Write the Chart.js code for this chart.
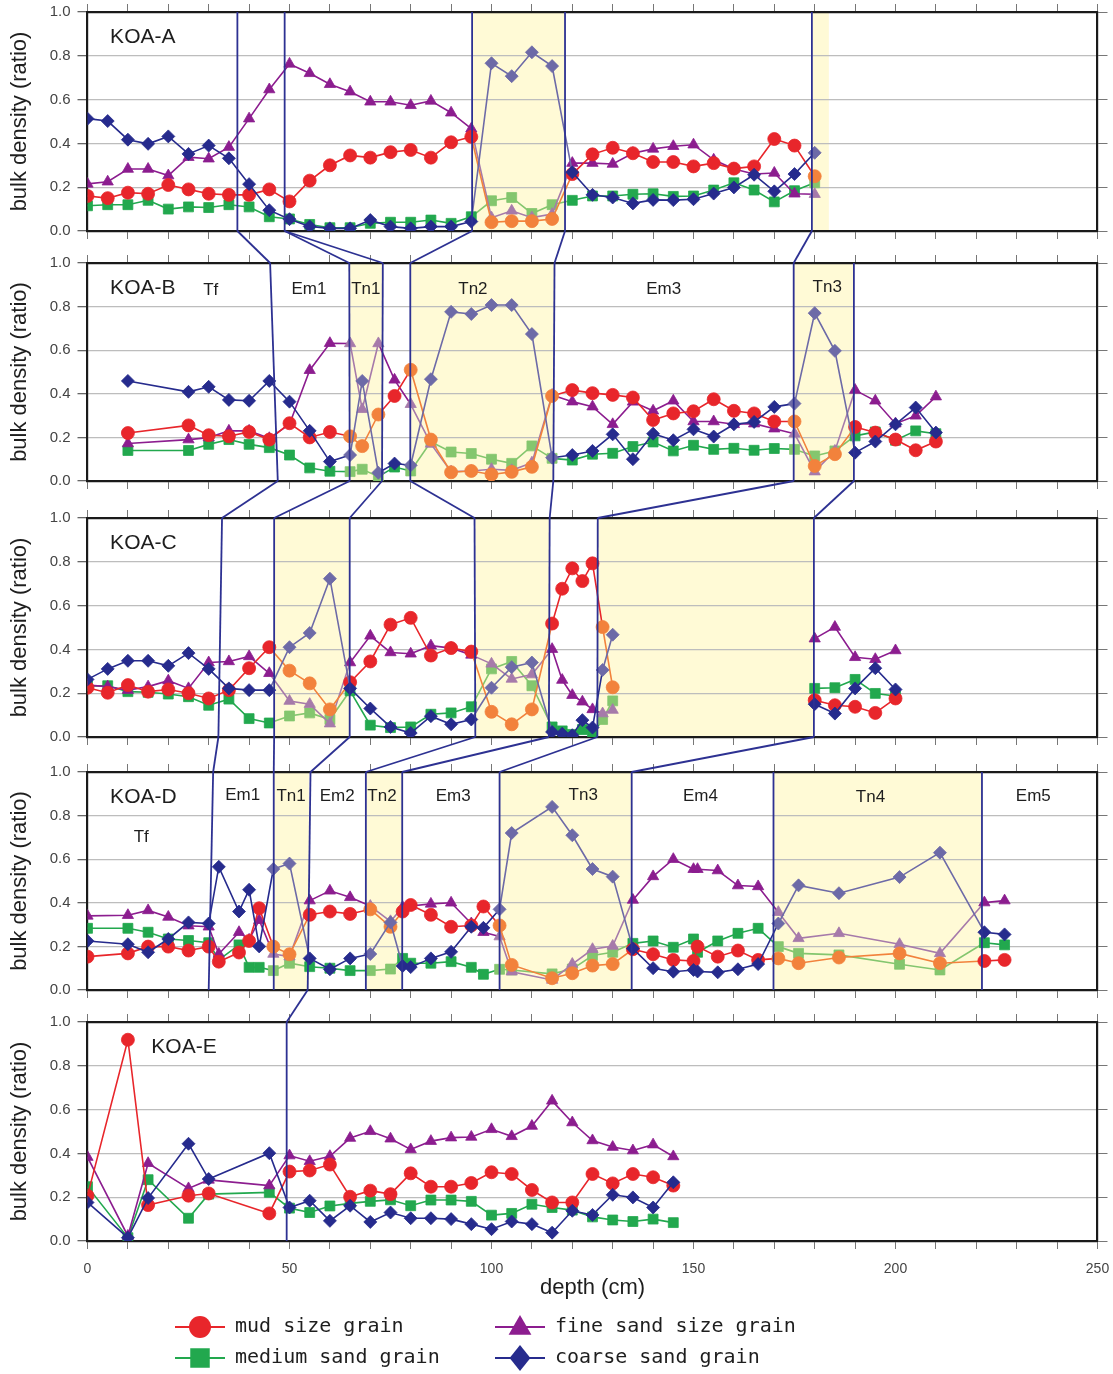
<!DOCTYPE html>
<html>
<head>
<meta charset="utf-8">
<title>bulk density</title>
<script src="https://cdn.jsdelivr.net/npm/chart.js@4.4.1/dist/chart.umd.min.js"></script>
<style>
  html, body { margin: 0; padding: 0; background: #fff; }
  #page { position: relative; width: 1113px; height: 1374px; overflow: hidden; }
  #page canvas { position: absolute; left: 0; }
  #links { top: 0; pointer-events: none; }
</style>
</head>
<body>
<div id="page"></div>
<script>
// ---- data (depth in cm, ratio 0-1) ----
const depthA = [0,5,10,15,20,25,30,35,40,45,50,55,60,65,70,75,80,85,90,95,100,105,110,115,120,125,130,135,140,145,150,155,160,165,170,175,180];
const mudA = [0.16,0.15,0.175,0.17,0.21,0.19,0.17,0.165,0.165,0.19,0.135,0.23,0.30,0.345,0.335,0.36,0.37,0.335,0.405,0.43,0.04,0.045,0.045,0.055,0.26,0.35,0.38,0.355,0.315,0.315,0.295,0.31,0.285,0.295,0.42,0.39,0.25];
const mediumA = [0.115,0.12,0.12,0.14,0.10,0.11,0.107,0.12,0.11,0.065,0.055,0.03,0.015,0.015,0.035,0.04,0.04,0.05,0.035,0.065,0.138,0.153,0.08,0.12,0.14,0.16,0.16,0.168,0.17,0.158,0.16,0.187,0.22,0.187,0.133,0.184,0.22];
const fineA = [0.215,0.225,0.283,0.283,0.253,0.337,0.33,0.383,0.513,0.646,0.763,0.72,0.67,0.636,0.59,0.59,0.574,0.594,0.54,0.467,0.061,0.092,0.061,0.077,0.31,0.31,0.306,0.355,0.375,0.387,0.394,0.325,0.283,0.26,0.265,0.17,0.168];
const coarseA = [0.513,0.502,0.417,0.398,0.432,0.352,0.39,0.332,0.214,0.095,0.054,0.021,0.012,0.012,0.05,0.02,0.012,0.02,0.02,0.043,0.766,0.707,0.816,0.753,0.268,0.165,0.153,0.126,0.142,0.141,0.145,0.171,0.199,0.257,0.181,0.26,0.357];

const depthB = [10,25,30,35,40,45,50,55,60,65,68,72,76,80,85,90,95,100,105,110,115,120,125,130,135,140,145,150,155,160,165,170,175,180,185,190,195,200,205,210];
const mudB = [0.22,0.255,0.21,0.205,0.225,0.19,0.265,0.2,0.225,0.205,0.16,0.305,0.39,0.51,0.19,0.04,0.046,0.03,0.042,0.065,0.39,0.417,0.403,0.395,0.383,0.28,0.31,0.32,0.375,0.322,0.31,0.273,0.273,0.069,0.123,0.248,0.222,0.19,0.141,0.181];
const mediumB = [0.14,0.14,0.168,0.19,0.168,0.153,0.119,0.06,0.045,0.043,0.054,0.02,0.064,0.046,0.18,0.133,0.126,0.1,0.081,0.161,0.104,0.096,0.123,0.127,0.158,0.179,0.138,0.164,0.145,0.15,0.141,0.149,0.145,0.115,0.138,0.207,0.225,0.187,0.23,0.217];
const fineB = [0.172,0.19,0.199,0.23,0.23,0.196,0.26,0.508,0.632,0.631,0.329,0.631,0.464,0.352,0.17,0.043,0.046,0.054,0.049,0.084,0.395,0.364,0.341,0.26,0.363,0.322,0.368,0.273,0.273,0.26,0.263,0.24,0.217,0.043,0.138,0.417,0.368,0.263,0.299,0.387];
const coarseB = [0.459,0.409,0.432,0.372,0.368,0.459,0.364,0.23,0.089,0.119,0.459,0.038,0.08,0.072,0.467,0.776,0.766,0.807,0.807,0.674,0.107,0.119,0.138,0.214,0.1,0.217,0.187,0.237,0.204,0.26,0.271,0.34,0.355,0.77,0.597,0.13,0.181,0.26,0.337,0.222];

const depthC = [0,5,10,15,20,25,30,35,40,45,50,55,60,65,70,75,80,85,90,95,100,105,110,115,117.5,120,122.5,125,127.5,130,155,180,185,190,195,200];
const mudC = [0.225,0.202,0.237,0.207,0.217,0.2,0.176,0.214,0.314,0.41,0.303,0.245,0.126,0.25,0.345,0.513,0.544,0.372,0.406,0.39,0.115,0.058,0.126,0.518,0.677,0.77,0.712,0.793,0.502,0.227,null,0.168,0.145,0.138,0.11,0.176];
const mediumC = [0.233,0.234,0.207,0.204,0.196,0.184,0.145,0.173,0.084,0.064,0.096,0.11,0.08,0.211,0.054,0.043,0.046,0.104,0.11,0.138,0.311,0.345,0.234,0.046,0.028,0.012,0.034,0.015,0.08,0.165,null,0.222,0.225,0.263,0.199,0.187];
const fineC = [0.237,0.23,0.214,0.23,0.257,0.222,0.34,0.345,0.368,0.291,0.164,0.15,0.061,0.34,0.462,0.386,0.38,0.417,0.406,0.375,0.334,0.265,0.285,0.401,0.26,0.191,0.161,0.126,0.107,0.123,null,0.449,0.502,0.364,0.355,0.395];
const coarseC = [0.263,0.311,0.348,0.348,0.325,0.383,0.311,0.222,0.214,0.214,0.41,0.475,0.723,0.222,0.13,0.046,0.018,0.095,0.058,0.08,0.225,0.319,0.34,0.023,0.015,0.008,0.077,0.043,0.306,0.467,null,0.15,0.107,0.222,0.314,0.217];

const depthD = [0,10,15,20,25,30,32.5,37.5,40,42.5,46,50,55,60,65,70,75,78,80,85,90,95,98,102,105,115,120,125,130,135,140,145,150,151,156,161,166,171,176,186,201,211,222,227];
const mudD = [0.153,0.168,0.199,0.199,0.181,0.199,0.13,0.172,0.225,0.375,0.199,0.164,0.345,0.36,0.349,0.37,0.29,0.36,0.39,0.345,0.29,0.296,0.383,0.296,0.115,0.054,0.077,0.112,0.119,0.187,0.164,0.138,0.133,0.199,0.153,0.181,0.138,0.145,0.123,0.149,0.168,0.123,0.133,0.138];
const mediumD = [0.283,0.283,0.265,0.234,0.227,0.217,0.138,0.207,0.104,0.104,0.089,0.123,0.107,0.1,0.089,0.089,0.096,0.145,0.123,0.123,0.13,0.104,0.072,0.095,0.092,0.074,0.096,0.158,0.173,0.214,0.225,0.196,0.234,0.173,0.225,0.26,0.283,0.199,0.168,0.161,0.118,0.092,0.217,0.207];
const fineD = [0.34,0.343,0.365,0.335,0.295,0.29,0.165,0.265,0.23,0.32,0.165,0.153,0.41,0.455,0.425,0.385,0.315,0.38,0.385,0.395,0.40,0.305,0.265,0.245,0.084,0.046,0.119,0.187,0.202,0.413,0.521,0.6,0.554,0.554,0.548,0.479,0.475,0.357,0.237,0.26,0.21,0.168,0.401,0.41];
const coarseD = [0.225,0.21,0.173,0.234,0.31,0.305,0.565,0.36,0.46,0.2,0.555,0.58,0.145,0.095,0.145,0.165,0.31,0.11,0.105,0.145,0.175,0.29,0.285,0.37,0.72,0.84,0.71,0.555,0.52,0.19,0.1,0.084,0.092,0.085,0.081,0.095,0.119,0.305,0.48,0.444,0.518,0.63,0.265,0.255];

const depthE = [0,10,15,25,30,45,50,55,60,65,70,75,80,85,90,95,100,105,110,115,120,125,130,135,140,145];
const mudE = [0.207,0.919,0.164,0.207,0.217,0.126,0.317,0.322,0.349,0.202,0.23,0.214,0.309,0.248,0.248,0.265,0.314,0.306,0.233,0.176,0.176,0.306,0.263,0.306,0.291,0.253];
const mediumE = [0.248,0.015,0.28,0.104,0.214,0.222,0.15,0.13,0.16,0.172,0.181,0.188,0.161,0.187,0.187,0.181,0.118,0.126,0.168,0.153,0.141,0.11,0.096,0.089,0.1,0.084];
const fineE = [0.383,0.023,0.355,0.24,0.279,0.253,0.39,0.364,0.387,0.47,0.501,0.467,0.418,0.456,0.472,0.475,0.51,0.478,0.525,0.64,0.541,0.459,0.429,0.413,0.44,0.386];
const coarseE = [0.176,0.015,0.196,0.444,0.283,0.401,0.153,0.184,0.092,0.161,0.087,0.13,0.104,0.104,0.1,0.077,0.054,0.089,0.077,0.038,0.138,0.119,0.211,0.199,0.153,0.268];

// tsunami layers (shaded), depth ranges in cm
const zonesA = [[95.2,118.2],[179.3,183.5]];
const zonesB = [[64.8,73.0],[79.9,115.5],[174.8,189.7]];
const zonesC = [[46.2,64.9],[96.0,114.3],[126.3,179.8]];
const zonesD = [[45.9,54.8],[68.9,77.9],[101.8,134.7],[169.8,221.4]];
const zonesE = [];

// layer boundaries inside each core: [depth at top, depth at bottom]
const boundsA = [[37.1,37.1],[48.8,48.8],[95.2,95.2],[118.2,118.2],[179.3,179.3]];
const boundsB = [[45.2,47.1],[64.8,64.9],[73.1,72.9],[79.9,79.9],[115.6,115.3],[174.8,174.8],[189.7,189.7]];
const boundsC = [[33.3,32.4],[46.2,46.2],[64.9,64.9],[95.8,96.0],[114.4,114.2],[126.3,126.2],[179.8,179.8]];
const boundsD = [[31.1,30.0],[46.1,46.1],[55.2,54.5],[68.9,68.9],[77.9,77.9],[102.0,102.0],[134.7,134.7],[169.8,169.8],[221.4,221.4]];
const boundsE = [[49.3,49.3]];

// correlation between neighbouring cores: [depth in upper core, depth in lower core]
const linksAB = [[37.1,45.2],[48.8,64.8],[48.8,73.1],[95.2,79.9],[118.2,115.6],[179.3,174.8]];
const linksBC = [[47.1,33.3],[64.9,46.2],[72.9,64.9],[79.9,95.8],[115.3,114.4],[174.8,126.3],[189.7,179.8]];
const linksCD = [[32.4,31.1],[46.2,46.1],[64.9,55.2],[96.0,68.9],[114.2,77.9],[126.2,102.0],[179.8,134.7]];
const linksDE = [[54.5,49.3]];

// unit labels: [text, depth, ratio]
const unitsB = [['Tf',30.5,0.875],['Em1',54.8,0.88],['Tn1',68.9,0.88],['Tn2',95.4,0.88],['Em3',142.6,0.88],['Tn3',183.1,0.89]];
const unitsD = [['Tf',13.3,0.70],['Em1',38.4,0.895],['Tn1',50.4,0.89],['Em2',61.8,0.89],['Tn2',72.9,0.89],['Em3',90.5,0.89],['Tn3',122.7,0.895],['Em4',151.7,0.89],['Tn4',193.8,0.885],['Em5',234.1,0.89]];

const seriesStyle = [
  { label: 'mud size grain', color: '#e8262b', tint: '#f2823c', shape: 'circle', r: 6.5, order: 2 },
  { label: 'medium sand grain', color: '#22a84e', tint: '#84c66e', shape: 'rect', r: 7, order: 4 },
  { label: 'fine sand size grain', color: '#8c1d8f', tint: '#a67aaa', shape: 'triangle', r: 6.5, order: 3 },
  { label: 'coarse sand grain', color: '#262b8d', tint: '#6d6aa7', shape: 'rectRot', r: 6.5, order: 1 }
];

Chart.defaults.font.family = "'Liberation Sans', Arial, sans-serif";

const panels = [
  { name: 'KOA-A', nameX: 5.6, top: 12, bottom: 231, depth: depthA, vals: [mudA, mediumA, fineA, coarseA], zones: zonesA, bounds: boundsA, units: [] },
  { name: 'KOA-B', nameX: 5.6, top: 263, bottom: 481, depth: depthB, vals: [mudB, mediumB, fineB, coarseB], zones: zonesB, bounds: boundsB, units: unitsB },
  { name: 'KOA-C', nameX: 5.6, top: 518, bottom: 737, depth: depthC, vals: [mudC, mediumC, fineC, coarseC], zones: zonesC, bounds: boundsC, units: [] },
  { name: 'KOA-D', nameX: 5.6, top: 772, bottom: 990, depth: depthD, vals: [mudD, mediumD, fineD, coarseD], zones: zonesD, bounds: boundsD, units: unitsD },
  { name: 'KOA-E', nameX: 15.8, top: 1022, bottom: 1241, depth: depthE, vals: [mudE, mediumE, fineE, coarseE], zones: zonesE, bounds: boundsE, units: [] }
];
const links = [linksAB, linksBC, linksCD, linksDE];

function drawMarker(ctx, shape, x, y, r, color) {
  ctx.save();
  ctx.fillStyle = color;
  ctx.beginPath();
  if (shape === 'circle') {
    ctx.arc(x, y, r, 0, Math.PI * 2);
  } else if (shape === 'rect') {
    ctx.rect(x - r * 0.75, y - r * 0.75, r * 1.5, r * 1.5);
  } else if (shape === 'triangle') {
    ctx.moveTo(x, y - r);
    ctx.lineTo(x + r * 0.95, y + r * 0.65);
    ctx.lineTo(x - r * 0.95, y + r * 0.65);
    ctx.closePath();
  } else {
    ctx.moveTo(x, y - r);
    ctx.lineTo(x + r * 0.8, y);
    ctx.lineTo(x, y + r);
    ctx.lineTo(x - r * 0.8, y);
    ctx.closePath();
  }
  ctx.fill();
  ctx.restore();
}

const page = document.getElementById('page');
const charts = [];
const tops = [];

panels.forEach((p, idx) => {
  const last = idx === panels.length - 1;
  const ph = p.bottom - p.top;
  const padTop = 6;
  const cTop = p.top - 8 - padTop;
  const axisH = last ? 60 : 8;
  const cHeight = last ? 1374 - cTop : ph + 28;
  const padBottom = cHeight - padTop - 8 - ph - axisH;
  tops.push(cTop);

  const canvas = document.createElement('canvas');
  canvas.width = 1113;
  canvas.height = cHeight;
  canvas.style.top = cTop + 'px';
  page.appendChild(canvas);

  const inZone = x => p.zones.some(z => x > z[0] && x < z[1]);

  const datasets = seriesStyle.map((s, k) => ({
    label: s.label,
    data: p.depth.map((d, i) => ({ x: d, y: p.vals[k][i] })),
    borderColor: s.color,
    borderWidth: 1.6,
    pointStyle: s.shape,
    pointRadius: s.r,
    pointBorderWidth: 0.8,
    pointBackgroundColor: c => (c.raw && inZone(c.raw.x)) ? s.tint : s.color,
    pointBorderColor: c => (c.raw && inZone(c.raw.x)) ? s.tint : s.color,
    segment: {
      borderColor: c => inZone((c.p0.parsed.x + c.p1.parsed.x) / 2) ? s.tint : undefined
    },
    spanGaps: false,
    order: s.order
  }));

  const shading = {
    id: 'shading',
    beforeDraw(chart) {
      const { ctx, chartArea: a, scales: { x } } = chart;
      ctx.save();
      ctx.fillStyle = '#fffad6';
      p.zones.forEach(z => {
        const x0 = x.getPixelForValue(z[0]);
        const x1 = x.getPixelForValue(z[1]);
        ctx.fillRect(x0, a.top, x1 - x0, a.bottom - a.top);
      });
      ctx.restore();
    }
  };

  const labels = {
    id: 'labels',
    afterDraw(chart) {
      const { ctx, scales: { x, y } } = chart;
      ctx.save();
      ctx.fillStyle = '#1e1e1e';
      ctx.textBaseline = 'middle';
      ctx.textAlign = 'left';
      ctx.font = "21px 'Liberation Sans', Arial, sans-serif";
      ctx.fillText(p.name, x.getPixelForValue(p.nameX), y.getPixelForValue(0.885));
      ctx.textAlign = 'center';
      ctx.font = "17px 'Liberation Sans', Arial, sans-serif";
      p.units.forEach(u => ctx.fillText(u[0], x.getPixelForValue(u[1]), y.getPixelForValue(u[2])));
      ctx.restore();
    }
  };

  const legendRows = {
    id: 'legendRows',
    afterDraw(chart) {
      if (!last) return;
      const ctx = chart.ctx;
      const spots = [[200, 1327], [200, 1358], [520, 1327], [520, 1358]];
      const sizes = [11, 13, 12, 13];
      ctx.save();
      seriesStyle.forEach((s, k) => {
        const cx = spots[k][0];
        const cy = spots[k][1] - cTop;
        ctx.strokeStyle = s.color;
        ctx.lineWidth = 2;
        ctx.beginPath();
        ctx.moveTo(cx - 25, cy);
        ctx.lineTo(cx + 25, cy);
        ctx.stroke();
        drawMarker(ctx, s.shape, cx, cy, sizes[k], s.color);
        ctx.fillStyle = '#1e1e1e';
        ctx.font = "20px 'DejaVu Sans Mono', monospace";
        ctx.textAlign = 'left';
        ctx.textBaseline = 'middle';
        ctx.fillText(s.label, cx + 35, cy);
      });
      ctx.restore();
    }
  };

  const edge = { display: true, color: '#1a1a1a', width: 2.2 };

  const chart = new Chart(canvas.getContext('2d'), {
    type: 'line',
    data: { datasets },
    options: {
      responsive: false,
      animation: false,
      devicePixelRatio: 1,
      layout: { padding: { top: padTop, right: 5.5, bottom: padBottom, left: 0 } },
      plugins: { legend: { display: false }, tooltip: { enabled: false } },
      scales: {
        x: {
          type: 'linear', position: 'bottom', min: 0, max: 250,
          ticks: {
            display: last, stepSize: 10, autoSkip: false, maxRotation: 0, padding: 12,
            color: '#444', font: { size: 14 },
            callback: v => (v % 50 === 0 ? String(v) : '')
          },
          grid: { drawOnChartArea: false, tickLength: 8, color: '#777', lineWidth: 1 },
          border: edge,
          title: { display: last, text: 'depth (cm)', color: '#1e1e1e', font: { size: 22 }, padding: 0 },
          afterFit(s) { s.height = axisH; s.paddingLeft = 0; s.paddingRight = 0; }
        },
        xTop: {
          type: 'linear', position: 'top', min: 0, max: 250,
          ticks: { display: false, stepSize: 10, autoSkip: false },
          grid: { drawOnChartArea: false, tickLength: 8, color: '#777', lineWidth: 1 },
          border: edge,
          afterFit(s) { s.height = 8; s.paddingLeft = 0; s.paddingRight = 0; }
        },
        y: {
          min: 0, max: 1,
          ticks: { stepSize: 0.2, padding: 7, color: '#444', font: { size: 15 }, callback: v => v.toFixed(1) },
          grid: { color: '#bdbdbd', lineWidth: 1.3, tickLength: 10, tickColor: '#666' },
          border: edge,
          title: { display: true, text: 'bulk density (ratio)', color: '#1e1e1e', font: { size: 22 }, padding: { top: 7, bottom: 0 } },
          afterFit(s) { s.width = 87.5; s.paddingTop = 0; s.paddingBottom = 0; }
        },
        yRight: {
          position: 'right', min: 0, max: 1,
          ticks: { display: false, stepSize: 0.2 },
          grid: { drawOnChartArea: false, tickLength: 10, color: '#777' },
          border: edge,
          afterFit(s) { s.width = 10; s.paddingTop = 0; s.paddingBottom = 0; }
        }
      }
    },
    plugins: [shading, labels, legendRows]
  });
  charts.push(chart);
});

// boundary lines and correlation lines across the cores
const overlay = document.createElement('canvas');
overlay.id = 'links';
overlay.width = 1113;
overlay.height = 1374;
page.appendChild(overlay);
const octx = overlay.getContext('2d');
octx.strokeStyle = '#2d3192';
octx.lineWidth = 1.8;
octx.lineJoin = 'round';

const px = (i, d) => charts[i].scales.x.getPixelForValue(d);
const topY = i => tops[i] + charts[i].chartArea.top;
const botY = i => tops[i] + charts[i].chartArea.bottom;

panels.forEach((p, i) => {
  p.bounds.forEach(b => {
    octx.beginPath();
    octx.moveTo(px(i, b[0]), topY(i));
    octx.lineTo(px(i, b[1]), botY(i));
    octx.stroke();
  });
});
links.forEach((set, i) => {
  set.forEach(l => {
    octx.beginPath();
    octx.moveTo(px(i, l[0]), botY(i));
    octx.lineTo(px(i + 1, l[1]), topY(i + 1));
    octx.stroke();
  });
});
</script>
</body>
</html>
